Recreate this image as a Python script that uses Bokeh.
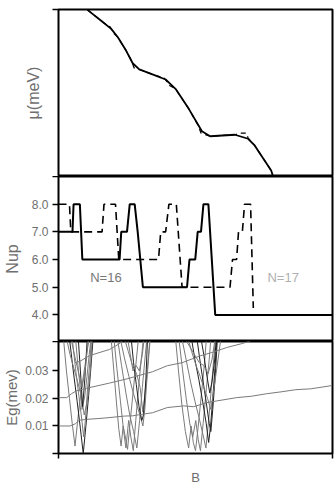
from bokeh.plotting import figure
from bokeh.layouts import column
from bokeh.models import Range1d, FixedTicker, Label, CustomJSTickFormatter
from bokeh.embed import file_html
from bokeh.resources import INLINE

# ---------------- data ----------------
# top panel: chemical potential mu (arbitrary meV units) vs B (0..100)
mu_B = [10.58, 16.25, 19.24, 21.66, 24.66, 27.08, 29.49, 34.30, 39.10, 42.71, 47.55,
        52.35, 55.34, 64.37, 69.21, 71.59, 77.62, 78.34]
mu_solid = [9.98, 9.24, 8.84, 8.34, 7.54, 6.78, 6.41, 6.11, 5.81, 5.25, 4.05,
            2.71, 2.41, 2.50, 2.26, 1.86, 0.36, 0.0]
mu2_B = [10.58, 16.25, 18.9, 20.0, 21.66, 24.66, 26.6, 27.6, 29.49, 34.30, 38.6, 40.5,
         42.71, 47.55, 51.0, 52.0, 55.34, 64.37, 66.5, 68.6, 69.21, 71.59, 77.62, 78.34]
mu_dashed = [9.98, 9.24, 8.95, 8.6, 8.34, 7.54, 6.95, 6.5, 6.41, 6.11, 5.9, 5.45,
             5.25, 4.05, 3.05, 2.6, 2.41, 2.50, 2.6, 2.6, 2.3, 1.86, 0.36, 0.0]

# middle panel: Nup for N=16 (solid) and N=17 (dashed)
n16_B = [0, 5.1, 5.5, 7.8, 8.7, 22.3, 22.9, 25.0, 26.0, 27.8, 28.9, 30.8, 46.9, 47.8,
         49.9, 50.8, 52.0, 52.9, 54.7, 57.2, 100]
n16_up = [7, 7, 8, 8, 6, 6, 7, 7, 8, 8, 7, 5, 5, 6, 6, 7, 7, 8, 8, 4, 4]
n17_B = [0, 4.0, 4.5, 15.9, 16.6, 20.8, 22.0, 36.5, 37.3, 39.1, 40.3, 43.0, 43.7, 45.1,
         62.6, 63.5, 65.0, 65.7, 67.1, 67.9, 70.1, 71.1]
n17_up = [8, 8, 7, 7, 8, 8, 6, 6, 7, 7, 8, 8, 7, 5, 5, 6, 6, 7, 7, 8, 8, 4.25]

# bottom panel: excitation gaps Eg (meV) -- slowly rising branches
ga_B = [0, 4.22, 6.14, 7.58, 10.22, 14.44, 18.05, 24.08, 27.08, 30.07, 34.30, 39.71, 45.74,
        49.35, 54.15, 57.76, 64.98, 70.40, 75.81, 81.23, 86.64, 92.06, 99.89]
ga_E = [0.0100, 0.0100, 0.0108, 0.0121, 0.0124, 0.0127, 0.0130, 0.0136, 0.0137, 0.0142, 0.0148,
        0.0167, 0.0173, 0.0170, 0.0185, 0.0191, 0.0203, 0.0208, 0.0217, 0.0224, 0.0232, 0.0235, 0.0247]
gb_B = [0, 3.0, 4.69, 6.61, 10.22, 18.66, 25.27, 34.30, 39.71, 45.13, 51.73, 55.96, 61.37, 66.79, 69.78]
gb_E = [0.0203, 0.0203, 0.0217, 0.0228, 0.0237, 0.0256, 0.0272, 0.0297, 0.0319, 0.0330, 0.0355,
        0.0367, 0.0385, 0.0399, 0.0408]
gc_B = [6.1, 7.8, 11.4, 18.6, 21.7, 23.5]
gc_E = [0.0330, 0.0335, 0.0356, 0.0378, 0.0396, 0.0410]

# bottom panel: gap branches collapsing near level crossings (three clusters)
v_B = [
    [1.8, 2.9, 4.0, 5.0, 6.03, 6.9, 7.8, 9.2, 11.2],
    [3.97, 5.4, 6.8, 8.0, 9.03, 10.0, 11.0, 11.8, 12.64],
    [5.0, 6.2, 7.3, 8.3, 9.2, 9.8, 10.5, 11.5, 12.0],
    [6.2, 7.0, 7.9, 8.6, 9.6, 10.4, 11.2, 11.9],
    [2.9, 4.2, 5.6, 7.0, 8.3, 9.4, 10.5, 11.6, 12.3],
    [7.2, 8.0, 8.8, 9.6, 10.5],
    [4.5, 6.0, 7.4, 8.6, 9.7, 10.9],
    [19.2, 20.2, 21.2, 22.0, 22.85, 23.6, 24.4, 25.2, 26.0, 27.2, 28.4, 29.2],
    [20.2, 21.3, 22.6, 23.8, 24.6, 25.6, 26.4, 27.3, 28.2, 29.4, 30.4, 31.0],
    [21.5, 23.0, 24.6, 26.0, 27.4, 28.6, 29.6, 30.6, 31.7, 32.3],
    [22.5, 24.0, 25.7, 27.3, 28.8, 30.0, 30.8, 31.5, 32.2, 33.0, 33.5],
    [24.0, 25.5, 27.0, 28.5, 29.8, 30.8, 31.8, 32.8, 33.4],
    [26.5, 27.4, 28.4, 29.4, 30.4, 31.0, 31.9, 32.5],
    [25.2, 26.2, 27.2, 28.3, 29.5, 30.6, 31.3],
    [42.7, 43.8, 45.0, 46.3, 47.5, 48.4, 49.2, 50.0, 50.9, 52.0, 53.2, 54.0],
    [43.9, 45.2, 46.6, 47.9, 49.0, 50.1, 51.0, 51.8, 52.8, 54.0, 55.0, 55.6],
    [45.0, 46.6, 48.2, 49.8, 51.3, 52.7, 53.8, 54.8, 55.8, 56.8, 57.3],
    [48.5, 49.8, 51.2, 52.6, 53.9, 54.8, 55.5, 56.3, 57.1, 57.8],
    [50.5, 51.6, 52.8, 54.0, 55.0, 55.6, 56.3, 57.2, 58.0],
    [47.2, 48.6, 50.2, 51.7, 53.0, 54.4, 55.6, 56.8, 58.2, 59.3],
    [52.0, 53.0, 54.2, 55.2, 56.0, 57.0, 57.6],
    [46.0, 47.8, 49.6, 51.4, 53.0, 54.6, 56.0, 57.2],
]
v_E = [
    [0.042, 0.030, 0.020, 0.011, 0.0027, 0.011, 0.019, 0.029, 0.042],
    [0.042, 0.030, 0.019, 0.009, 0.0, 0.010, 0.021, 0.031, 0.042],
    [0.042, 0.031, 0.022, 0.014, 0.006, 0.012, 0.022, 0.034, 0.042],
    [0.042, 0.033, 0.024, 0.016, 0.021, 0.028, 0.036, 0.042],
    [0.042, 0.036, 0.031, 0.026, 0.021, 0.014, 0.019, 0.030, 0.042],
    [0.042, 0.030, 0.017, 0.027, 0.042],
    [0.042, 0.035, 0.029, 0.024, 0.030, 0.042],
    [0.042, 0.030, 0.018, 0.009, 0.0027, 0.010, 0.006, 0.0015, 0.010, 0.022, 0.034, 0.042],
    [0.042, 0.031, 0.019, 0.008, 0.002, 0.012, 0.006, 0.001, 0.012, 0.026, 0.036, 0.042],
    [0.042, 0.032, 0.022, 0.014, 0.008, 0.002, 0.012, 0.024, 0.036, 0.042],
    [0.042, 0.035, 0.028, 0.022, 0.017, 0.013, 0.010, 0.016, 0.026, 0.036, 0.042],
    [0.042, 0.037, 0.032, 0.029, 0.024, 0.015, 0.024, 0.035, 0.042],
    [0.042, 0.033, 0.025, 0.017, 0.012, 0.014, 0.027, 0.042],
    [0.042, 0.036, 0.030, 0.032, 0.030, 0.036, 0.042],
    [0.042, 0.030, 0.018, 0.008, 0.002, 0.010, 0.004, 0.001, 0.009, 0.020, 0.032, 0.042],
    [0.042, 0.031, 0.020, 0.011, 0.006, 0.012, 0.005, 0.001, 0.011, 0.024, 0.034, 0.042],
    [0.042, 0.034, 0.026, 0.019, 0.013, 0.007, 0.002, 0.012, 0.024, 0.036, 0.042],
    [0.042, 0.034, 0.027, 0.019, 0.011, 0.004, 0.010, 0.020, 0.031, 0.042],
    [0.042, 0.034, 0.026, 0.018, 0.011, 0.008, 0.016, 0.028, 0.042],
    [0.042, 0.037, 0.032, 0.028, 0.024, 0.020, 0.016, 0.024, 0.034, 0.042],
    [0.042, 0.036, 0.028, 0.022, 0.026, 0.034, 0.042],
    [0.042, 0.039, 0.036, 0.033, 0.032, 0.029, 0.034, 0.042],
]
v_dark = [False, True, False, False, False, True, False, False, False, False, False, False, True,
          False, False, False, False, True, True, False, True, False]

nup_ticks = [4, 5, 6, 7, 8, 9]
eg_ticks = [0, 0.01, 0.02, 0.03, 0.0407]

# ---------------- styling helpers ----------------
FONT = "Liberation Sans"
GRAY = "#6e6e6e"
xr = Range1d(0, 100)


def base(height, yr, top, bottom, ylabel, label_size, label_standoff):
    p = figure(width=336, height=height, x_range=xr, y_range=yr,
               output_backend="svg", toolbar_location=None,
               min_border_left=55, min_border_right=4,
               min_border_top=top, min_border_bottom=bottom)
    p.grid.visible = False
    p.outline_line_color = "black"
    p.outline_line_width = 2
    p.background_fill_color = "white"
    p.border_fill_color = "white"
    ax = p.yaxis[0]
    ax.axis_line_color = None
    ax.major_tick_out = 6
    ax.major_tick_in = 0
    ax.major_tick_line_width = 1.5
    ax.minor_tick_line_color = None
    ax.major_label_text_font = FONT
    ax.major_label_text_font_size = "12px"
    ax.major_label_text_color = GRAY
    ax.major_label_standoff = 4
    ax.axis_label = ylabel
    ax.axis_label_text_font = FONT
    ax.axis_label_text_font_size = label_size
    ax.axis_label_text_font_style = "normal"
    ax.axis_label_text_color = GRAY
    ax.axis_label_standoff = label_standoff
    return p


def inner_label(p, x, y, text, color):
    p.add_layout(Label(x=x, y=y, text=text, text_align="center",
                       text_baseline="middle", text_font=FONT, text_font_size="13px",
                       text_color=color))


# top panel
p1 = base(176, Range1d(0, 10), 9, 0, "\u03bc(meV)", "16px", 11)
p1.xaxis.visible = False
p1.yaxis[0].ticker = FixedTicker(ticks=[10])
p1.yaxis[0].formatter = CustomJSTickFormatter(code="return '';")
p1.line(mu_B, mu_solid, line_color="black", line_width=1.8)
p1.line(mu2_B, mu_dashed, line_color="black", line_width=1.2, line_dash="5 4")

# middle panel
p2 = base(165, Range1d(3.04, 9.0), 0, 0, "Nup", "16px", 8)
p2.xaxis.visible = False
p2.yaxis[0].ticker = FixedTicker(ticks=nup_ticks)
p2.yaxis[0].formatter = CustomJSTickFormatter(code="return tick < 8.5 ? tick.toFixed(1) : '';")
p2.line(n17_B, n17_up, line_color="black", line_width=1.6, line_dash="8 5")
p2.line(n16_B, n16_up, line_color="black", line_width=2)
inner_label(p2, 17.3, 5.35, "N=16", "#777777")
inner_label(p2, 82.0, 5.35, "N=17", "#b0b0b0")

# bottom panel
p3 = base(151, Range1d(0, 0.0407), 0, 39, "Eg(mev)", "15px", 2)
p3.yaxis[0].ticker = FixedTicker(ticks=eg_ticks)
p3.yaxis[0].formatter = CustomJSTickFormatter(
    code="return (tick > 0.005 && tick < 0.035) ? tick.toFixed(2) : '';")
xa = p3.xaxis[0]
xa.ticker = FixedTicker(ticks=[0, 100])
xa.formatter = CustomJSTickFormatter(code="return '';")
xa.axis_line_color = None
xa.major_tick_out = 5
xa.major_tick_in = 0
xa.major_tick_line_width = 1.5
xa.minor_tick_line_color = None
xa.axis_label = "B"
xa.axis_label_text_font = FONT
xa.axis_label_text_font_size = "13px"
xa.axis_label_text_font_style = "normal"
xa.axis_label_text_color = GRAY
xa.axis_label_standoff = 11

for bx, ey, dk in zip(v_B, v_E, v_dark):
    p3.line(bx, ey, line_color="#222222" if dk else "#7a7a7a", line_width=1)
p3.line(ga_B, ga_E, line_color="#7a7a7a", line_width=1)
p3.line(gb_B, gb_E, line_color="#7a7a7a", line_width=1)
p3.line(gc_B, gc_E, line_color="#7a7a7a", line_width=1)

layout = column(p1, p2, p3, spacing=0)
open("out.html", "w").write(file_html(layout, INLINE))
